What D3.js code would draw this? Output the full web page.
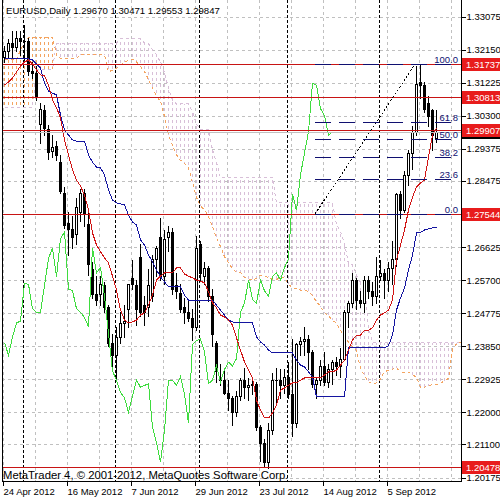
<!DOCTYPE html>
<html>
<head>
<meta charset="utf-8">
<script src="https://cdn.jsdelivr.net/npm/d3@7"></script>
<style>
  body { margin: 0; background: #fff; }
  svg { display: block; font-family: "Liberation Sans", Arial, sans-serif; }
</style>
</head>
<body>
<div id="chart"></div>
<script>
// ---- data ----
const dateLabels = ['24 Apr 2012', '16 May 2012', '7 Jun 2012', '29 Jun 2012', '23 Jul 2012', '14 Aug 2012', '5 Sep 2012'];
const dateBars = [0, 16, 32, 48, 64, 80, 96];
const monthStartBars = [5, 28, 49, 71, 94];
const priceTicks = [1.33075, 1.32150, 1.31225, 1.30300, 1.29375, 1.28475, 1.27550, 1.26625,
  1.25700, 1.24775, 1.23850, 1.22925, 1.22000, 1.21100, 1.20175];

const opens = [1.3195,1.3212,1.3232,1.3222,1.3248,1.3240,1.3238,1.3155,1.3150,1.3007,
  1.3045,1.2992,1.2930,1.2945,1.2900,1.2815,1.2730,1.2712,1.2700,1.2760,
  1.2815,1.2728,1.2600,1.2530,1.2530,1.2555,1.2495,1.2395,1.2360,1.2410,
  1.2450,1.2490,1.2575,1.2555,1.2634,1.2500,1.2495,1.2525,1.2630,1.2690,
  1.2580,1.2690,1.2705,1.2555,1.2535,1.2495,1.2480,1.2465,1.2440,1.2670,
  1.2580,1.2605,1.2525,1.2395,1.2290,1.2290,1.2255,1.2240,1.2200,1.2245,
  1.2290,1.2270,1.2275,1.2280,1.2158,1.2115,1.2060,1.2150,1.2290,1.2290,
  1.2275,1.2300,1.2250,1.2170,1.2390,1.2400,1.2405,1.2370,1.2280,1.2290,
  1.2330,1.2285,1.2320,1.2340,1.2330,1.2350,1.2480,1.2505,1.2570,1.2515,
  1.2505,1.2570,1.2540,1.2525,1.2580,1.2590,1.2570,1.2605,1.2630,1.2810,
  1.2765,1.2865,1.2925,1.2985,1.3125,1.3115,1.3065,1.3046,1.2967];
const highs = [1.3225,1.3245,1.3268,1.3268,1.3268,1.3283,1.3248,1.3180,1.3170,1.3065,
  1.3060,1.3005,1.2975,1.2960,1.2920,1.2830,1.2760,1.2750,1.2800,1.2825,
  1.2825,1.2760,1.2620,1.2580,1.2580,1.2565,1.2500,1.2420,1.2440,1.2480,
  1.2500,1.2530,1.2625,1.2570,1.2670,1.2525,1.2600,1.2640,1.2665,1.2744,
  1.2710,1.2720,1.2715,1.2590,1.2560,1.2520,1.2510,1.2490,1.2692,1.2680,
  1.2620,1.2610,1.2545,1.2400,1.2335,1.2325,1.2290,1.2245,1.2260,1.2295,
  1.2325,1.2295,1.2290,1.2285,1.2165,1.2125,1.2170,1.2310,1.2325,1.2320,
  1.2320,1.2340,1.2405,1.2395,1.2410,1.2440,1.2415,1.2375,1.2300,1.2345,
  1.2370,1.2335,1.2345,1.2355,1.2380,1.2485,1.2510,1.2590,1.2575,1.2540,
  1.2580,1.2580,1.2565,1.2635,1.2625,1.2600,1.2620,1.2680,1.2815,1.2820,
  1.2875,1.2935,1.3000,1.3170,1.3174,1.3125,1.3085,1.3050,1.3047];
const lows = [1.3180,1.3190,1.3195,1.3210,1.3200,1.3180,1.3145,1.3135,1.3075,1.2954,
  1.2975,1.2910,1.2915,1.2905,1.2815,1.2715,1.2640,1.2660,1.2670,1.2735,
  1.2720,1.2585,1.2520,1.2500,1.2500,1.2480,1.2385,1.2330,1.2288,1.2395,
  1.2410,1.2440,1.2545,1.2445,1.2470,1.2445,1.2470,1.2510,1.2580,1.2570,
  1.2560,1.2650,1.2530,1.2520,1.2480,1.2450,1.2455,1.2403,1.2430,1.2570,
  1.2560,1.2510,1.2385,1.2285,1.2275,1.2250,1.2205,1.2165,1.2190,1.2235,
  1.2240,1.2235,1.2250,1.2150,1.2065,1.2048,1.2045,1.2140,1.2230,1.2240,
  1.2255,1.2240,1.2135,1.2160,1.2360,1.2360,1.2320,1.2270,1.2240,1.2275,
  1.2275,1.2270,1.2280,1.2305,1.2300,1.2345,1.2440,1.2495,1.2490,1.2495,
  1.2480,1.2520,1.2500,1.2505,1.2570,1.2520,1.2540,1.2560,1.2610,1.2745,
  1.2760,1.2835,1.2880,1.2975,1.3080,1.3040,1.3000,1.2934,1.2955];
const closes = [1.3212,1.3232,1.3222,1.3248,1.3240,1.3238,1.3155,1.3150,1.3082,1.3049,
  1.2995,1.2928,1.2942,1.2920,1.2820,1.2725,1.2712,1.2690,1.2775,1.2815,
  1.2755,1.2616,1.2530,1.2515,1.2560,1.2495,1.2395,1.2360,1.2410,1.2450,
  1.2455,1.2560,1.2558,1.2490,1.2480,1.2480,1.2555,1.2630,1.2660,1.2580,
  1.2685,1.2705,1.2545,1.2540,1.2490,1.2480,1.2465,1.2440,1.2660,1.2590,
  1.2605,1.2525,1.2420,1.2315,1.2290,1.2255,1.2240,1.2200,1.2245,1.2290,
  1.2270,1.2275,1.2280,1.2158,1.2115,1.2060,1.2150,1.2290,1.2290,1.2275,
  1.2300,1.2250,1.2170,1.2390,1.2400,1.2405,1.2370,1.2280,1.2290,1.2330,
  1.2285,1.2320,1.2340,1.2330,1.2350,1.2480,1.2505,1.2570,1.2515,1.2505,
  1.2570,1.2540,1.2525,1.2580,1.2590,1.2570,1.2605,1.2630,1.2810,1.2765,
  1.2865,1.2925,1.2985,1.3120,1.3115,1.3050,1.3030,1.2975,1.2985];

// Ichimoku lines
const tenkan = [1.3116,1.3124,1.3135,1.3152,1.3169,1.3180,1.3186,1.3175,1.3158,1.3144,
  1.3141,1.3116,1.3074,1.3052,1.3024,1.2962,1.2920,1.2878,1.2850,1.2833,
  1.2808,1.2766,1.2702,1.2668,1.2649,1.2632,1.2618,1.2581,1.2542,1.2486,
  1.2458,1.2450,1.2453,1.2458,1.2472,1.2478,1.2500,1.2528,1.2570,1.2581,
  1.2590,1.2590,1.2590,1.2604,1.2604,1.2587,1.2581,1.2576,1.2570,1.2567,
  1.2562,1.2537,1.2506,1.2492,1.2472,1.2467,1.2458,1.2444,1.2408,1.2374,
  1.2341,1.2318,1.2296,1.2234,1.2206,1.2184,1.2184,1.2198,1.2220,1.2262,
  1.2268,1.2276,1.2282,1.2282,1.2290,1.2296,1.2296,1.2296,1.2296,1.2296,
  1.2304,1.2313,1.2313,1.2318,1.2332,1.2346,1.2374,1.2402,1.2416,1.2416,
  1.2430,1.2430,1.2436,1.2458,1.2472,1.2478,1.2486,1.2514,1.2626,1.2668,
  1.2710,1.2766,1.2802,1.2830,1.2842,1.2850,1.2914,1.2976,1.2996];
const kijun = [1.3189,1.3189,1.3189,1.3189,1.3189,1.3189,1.3189,1.3186,1.3175,1.3163,
  1.3121,1.3099,1.3093,1.3088,1.3032,1.2990,1.2976,1.2962,1.2959,1.2959,
  1.2959,1.2920,1.2900,1.2886,1.2884,1.2864,1.2822,1.2794,1.2786,1.2783,
  1.2780,1.2752,1.2732,1.2724,1.2682,1.2668,1.2640,1.2621,1.2598,1.2579,
  1.2565,1.2551,1.2551,1.2551,1.2551,1.2528,1.2514,1.2514,1.2514,1.2514,
  1.2514,1.2514,1.2514,1.2500,1.2486,1.2472,1.2458,1.2453,1.2450,1.2450,
  1.2450,1.2450,1.2450,1.2411,1.2397,1.2388,1.2374,1.2366,1.2366,1.2366,
  1.2366,1.2366,1.2366,1.2346,1.2332,1.2327,1.2313,1.2299,1.2243,1.2243,
  1.2243,1.2243,1.2243,1.2243,1.2243,1.2243,1.2380,1.2380,1.2380,1.2380,
  1.2380,1.2380,1.2380,1.2380,1.2380,1.2380,1.2386,1.2416,1.2486,1.2520,
  1.2548,1.2598,1.2640,1.2702,1.2704,1.2710,1.2713,1.2716,1.2718];
const senkouA = [1.3186,1.3186,1.3186,1.3186,1.3215,1.3235,1.3250,1.3250,1.3250,1.3250,
  1.3250,1.3250,1.3250,1.3200,1.3190,1.3190,1.3190,1.3190,1.3190,1.3200,
  1.3200,1.3200,1.3200,1.3200,1.3200,1.3200,1.3153,1.3157,1.3162,1.3171,
  1.3179,1.3185,1.3188,1.3181,1.3167,1.3154,1.3131,1.3108,1.3084,1.3070,
  1.3028,1.2976,1.2948,1.2920,1.2905,1.2896,1.2884,1.2843,1.2801,1.2777,
  1.2767,1.2748,1.2720,1.2688,1.2664,1.2635,1.2619,1.2601,1.2593,1.2591,
  1.2577,1.2573,1.2570,1.2575,1.2584,1.2580,1.2578,1.2571,1.2571,1.2578,
  1.2578,1.2558,1.2548,1.2545,1.2542,1.2541,1.2538,1.2526,1.2510,1.2496,
  1.2479,1.2470,1.2458,1.2449,1.2429,1.2412,1.2396,1.2384,1.2373,1.2323,
  1.2302,1.2286,1.2279,1.2282,1.2293,1.2314,1.2317,1.2321,1.2324,1.2314,
  1.2311,1.2312,1.2305,1.2298,1.2270,1.2270,1.2274,1.2278,1.2278,1.2281,
  1.2288,1.2295,1.2377,1.2391,1.2398];
const senkouB = [1.3054,1.3054,1.3054,1.3054,1.3054,1.3054,1.3054,1.3054,1.3160,1.3160,
  1.3160,1.3160,1.3160,1.3233,1.3233,1.3233,1.3233,1.3233,1.3233,1.3233,
  1.3233,1.3233,1.3233,1.3233,1.3233,1.3233,1.3233,1.3233,1.3233,1.3245,
  1.3245,1.3245,1.3245,1.3245,1.3245,1.3233,1.3233,1.3214,1.3200,1.3180,
  1.3150,1.3107,1.3074,1.3063,1.3063,1.3063,1.3063,1.3040,1.3007,1.2990,
  1.2990,1.2990,1.2934,1.2900,1.2856,1.2856,1.2856,1.2856,1.2856,1.2856,
  1.2856,1.2856,1.2856,1.2856,1.2856,1.2856,1.2856,1.2856,1.2786,1.2786,
  1.2786,1.2786,1.2786,1.2786,1.2786,1.2786,1.2786,1.2786,1.2786,1.2786,
  1.2786,1.2786,1.2786,1.2724,1.2707,1.2672,1.2615,1.2613,1.2585,1.2563,
  1.2555,1.2440,1.2395,1.2395,1.2395,1.2395,1.2395,1.2395,1.2395,1.2395,
  1.2395,1.2395,1.2395,1.2395,1.2395,1.2395,1.2395,1.2395,1.2395,1.2395,
  1.2395,1.2395,1.2395,1.2395,1.2395];
const chikouShift = 26;

// horizontal lines, fibo and header
const hLevels = [1.31737, 1.30813, 1.29907, 1.27544, 1.20478];
const bidPrice = 1.29847;
const fibLevels = [0, 23.6, 38.2, 50, 61.8, 100];
const fibFrom = { bar: 77.75, price: 1.27544 };
const fibTo = { bar: 102.75, price: 1.31737 };
const fibEndBar = 112.75;
const title = 'EURUSD,Daily  1.29670 1.30471 1.29553 1.29847';
const copyright = 'MetaTrader 4, \u00a9 2001-2012, MetaQuotes Software Corp.';

// ---- layout ----
const width = 500;
const height = 500;
const plot = { left: 2, right: 461, top: 0, bottom: 481 };

const svg = d3.select('#chart').append('svg')
  .attr('width', width)
  .attr('height', height);

svg.append('rect').attr('width', width).attr('height', height).attr('fill', '#fff');

const x = d3.scaleLinear().domain([0, 114.25]).range([4, 461]);
const y = d3.scaleLinear().domain([1.20175, 1.33075]).range([477.5, 16.5]);
const px = (i) => Math.round(x(i));
const py = (p) => Math.round(y(p));

svg.append('clipPath').attr('id', 'plotclip')
  .append('rect')
  .attr('x', plot.left).attr('y', plot.top)
  .attr('width', plot.right - plot.left).attr('height', plot.bottom - plot.top);

const g = svg.append('g').attr('clip-path', 'url(#plotclip)').attr('shape-rendering', 'crispEdges');

// grid
const gridBars = d3.range(0, 115, 8);
g.append('g').selectAll('line').data(gridBars).join('line')
  .attr('x1', (d) => px(d) - 0.5).attr('x2', (d) => px(d) - 0.5)
  .attr('y1', plot.top).attr('y2', plot.bottom)
  .attr('stroke', '#c0c0c0').attr('stroke-dasharray', '3,3');
g.append('g').selectAll('line').data(priceTicks).join('line')
  .attr('x1', plot.left).attr('x2', plot.right)
  .attr('y1', (d) => py(d) + 0.5).attr('y2', (d) => py(d) + 0.5)
  .attr('stroke', '#c0c0c0').attr('stroke-dasharray', '3,3');

// period separators
g.append('g').selectAll('line').data(monthStartBars).join('line')
  .attr('x1', (d) => px(d) - 0.5).attr('x2', (d) => px(d) - 0.5)
  .attr('y1', plot.top).attr('y2', plot.bottom)
  .attr('stroke', '#000').attr('stroke-dasharray', '3,2');

// kumo: dotted vertical hatching, one line per bar
const cloud = senkouA.map((a, i) => ({ i, a, b: senkouB[i] }));
g.append('g').selectAll('line').data(cloud).join('line')
  .attr('x1', (d) => px(d.i) + 0.5).attr('x2', (d) => px(d.i) + 0.5)
  .attr('y1', (d) => Math.min(py(d.a), py(d.b)))
  .attr('y2', (d) => Math.max(py(d.a), py(d.b)))
  .attr('stroke-dashoffset', (d) => Math.min(py(d.a), py(d.b)) % 6)
  .attr('stroke', (d) => (d.a >= d.b ? '#f4a460' : '#d8bfd8'))
  .attr('stroke-dasharray', '3,3');
const lineOf = (arr, shift = 0) => d3.line()
  .x((d, i) => px(i + shift) + 0.5)
  .y((d) => y(d))(arr);
g.append('path').attr('d', lineOf(senkouB)).attr('fill', 'none')
  .attr('stroke', '#d8bfd8').attr('stroke-dasharray', '3,3');
g.append('path').attr('d', lineOf(senkouA)).attr('fill', 'none')
  .attr('stroke', '#f4a460').attr('stroke-dasharray', '3,3');

// candles
const bars = opens.map((o, i) => ({ i, o, h: highs[i], l: lows[i], c: closes[i] }));
const cg = g.append('g');
cg.selectAll('line').data(bars).join('line')
  .attr('x1', (d) => px(d.i) + 0.5).attr('x2', (d) => px(d.i) + 0.5)
  .attr('y1', (d) => py(d.h)).attr('y2', (d) => py(d.l) + 1)
  .attr('stroke', '#000');
cg.selectAll('rect.bear').data(bars.filter((d) => d.c < d.o)).join('rect')
  .attr('class', 'bear')
  .attr('x', (d) => px(d.i) - 1).attr('width', 3)
  .attr('y', (d) => py(d.o))
  .attr('height', (d) => Math.max(1, py(d.c) - py(d.o) + 1))
  .attr('fill', '#000');
cg.selectAll('rect.bull').data(bars.filter((d) => d.c >= d.o)).join('rect')
  .attr('class', 'bull')
  .attr('x', (d) => px(d.i) - 0.5).attr('width', 2)
  .attr('y', (d) => py(d.c) + 0.5)
  .attr('height', (d) => Math.max(0.01, py(d.o) - py(d.c)))
  .attr('fill', '#fff').attr('stroke', '#000');

// ichimoku lines
g.append('path').attr('d', lineOf(closes.slice(chikouShift), 0)).attr('fill', 'none')
  .attr('stroke', '#3fdc3f');
g.append('path').attr('d', lineOf(kijun)).attr('fill', 'none').attr('stroke', '#1414a0');
g.append('path').attr('d', lineOf(tenkan)).attr('fill', 'none').attr('stroke', '#d01414');

// bid line and horizontal levels
g.append('line')
  .attr('x1', plot.left).attr('x2', plot.right)
  .attr('y1', py(bidPrice) + 0.5).attr('y2', py(bidPrice) + 0.5)
  .attr('stroke', '#c0c0c0');
g.append('g').selectAll('line').data(hLevels).join('line')
  .attr('x1', plot.left).attr('x2', plot.right)
  .attr('y1', (d) => py(d) + 0.5).attr('y2', (d) => py(d) + 0.5)
  .attr('stroke', '#c81414');

// fibonacci
const fibPrice = (lv) => fibFrom.price + (fibTo.price - fibFrom.price) * lv / 100;
g.append('line')
  .attr('x1', x(fibFrom.bar)).attr('y1', y(fibFrom.price))
  .attr('x2', x(fibTo.bar)).attr('y2', y(fibTo.price))
  .attr('stroke', '#000').attr('stroke-dasharray', '2,2');
g.append('g').selectAll('line').data(fibLevels).join('line')
  .attr('x1', x(fibFrom.bar)).attr('x2', x(fibEndBar))
  .attr('y1', (d) => py(fibPrice(d)) + 0.5)
  .attr('y2', (d) => py(fibPrice(d)) + 0.5)
  .attr('stroke', '#101070').attr('stroke-dasharray', '16,8');
svg.append('g').selectAll('text').data(fibLevels).join('text')
  .attr('x', x(fibEndBar) + 3).attr('y', (d) => py(fibPrice(d)) - 1)
  .attr('text-anchor', 'end')
  .attr('font-size', 9.5).attr('fill', '#101070')
  .text((d) => d.toFixed(1));

// frame
const frame = svg.append('g').attr('shape-rendering', 'crispEdges').attr('stroke', '#000');
frame.append('line').attr('x1', plot.left + 0.5).attr('x2', plot.left + 0.5)
  .attr('y1', plot.top).attr('y2', plot.bottom + 1);
frame.append('line').attr('x1', plot.right + 0.5).attr('x2', plot.right + 0.5)
  .attr('y1', plot.top).attr('y2', plot.bottom + 1);
frame.append('line').attr('x1', plot.left).attr('x2', plot.right + 1)
  .attr('y1', plot.bottom + 0.5).attr('y2', plot.bottom + 0.5);

// price axis
const yAxis = svg.append('g')
  .attr('transform', `translate(${plot.right + 0.5},0)`)
  .attr('shape-rendering', 'crispEdges')
  .call(d3.axisRight(y).tickValues(priceTicks).tickFormat(d3.format('.5f')).tickSize(4).tickPadding(1));
yAxis.select('.domain').remove();
yAxis.selectAll('text').attr('font-size', 9.5).attr('fill', '#000')
  .attr('font-family', '"Liberation Sans", Arial, sans-serif');

// time axis
const xAxis = svg.append('g')
  .attr('transform', `translate(-1,${plot.bottom + 0.5})`)
  .attr('shape-rendering', 'crispEdges')
  .call(d3.axisBottom(x).tickValues(dateBars).tickFormat((d, k) => dateLabels[k]).tickSize(4).tickPadding(3));
xAxis.select('.domain').remove();
xAxis.selectAll('text').attr('text-anchor', 'start').attr('font-size', 9.5).attr('fill', '#000')
  .attr('font-family', '"Liberation Sans", Arial, sans-serif');

// price tags on the axis
const tagH = 13;
svg.append('rect')
  .attr('x', plot.right + 1).attr('y', py(bidPrice) - 6)
  .attr('width', width - plot.right - 1).attr('height', tagH)
  .attr('fill', '#000');
const tags = svg.append('g').selectAll('g').data(hLevels).join('g')
  .attr('transform', (d) => `translate(${plot.right + 1},${py(d) - 6})`);
tags.append('rect').attr('width', width - plot.right - 1).attr('height', tagH).attr('fill', '#e81c1c');
tags.append('text').attr('x', 4).attr('y', 10).attr('font-size', 9.5).attr('fill', '#fff')
  .text((d) => d.toFixed(5));

// header and footer text
svg.append('text').attr('x', 6).attr('y', 14).attr('font-size', 9.6).attr('fill', '#000').text(title);
svg.append('text').attr('x', 3).attr('y', 479).attr('font-size', 11.3).attr('fill', '#000').text(copyright);
</script>
</body>
</html>
